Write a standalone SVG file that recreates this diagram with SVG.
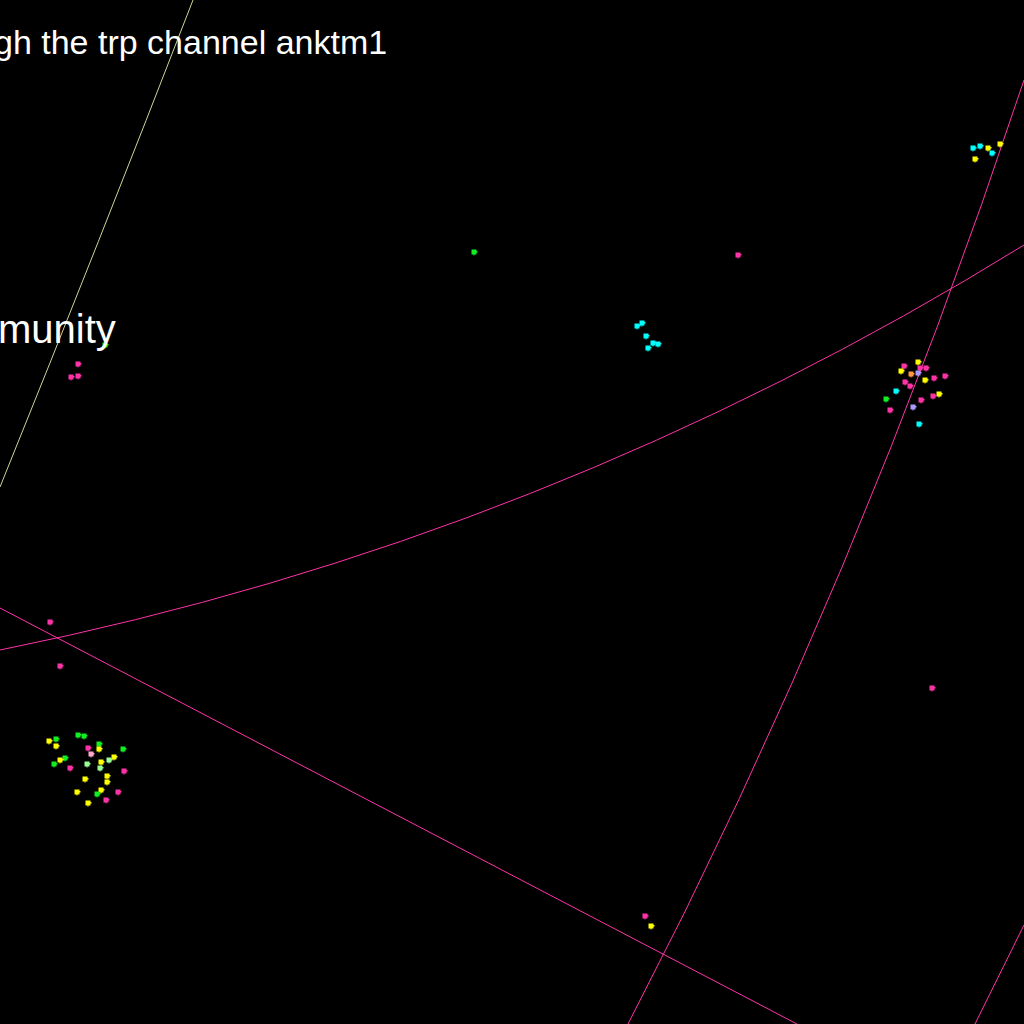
<svg xmlns="http://www.w3.org/2000/svg" width="1024" height="1024" viewBox="0 0 1024 1024">
<style>
.ln{fill:none;stroke:#ff33a8;stroke-width:1}
.pl{fill:none;stroke:#c8d898;stroke-width:1}
.t{fill:#ffffff;font-family:"Liberation Sans",Arial,sans-serif}
.p{fill:#ff33a8}.y{fill:#ffff00}.g{fill:#11ee22}.c{fill:#00ffff}.lg{fill:#99ff99}.lp{fill:#ffaacc}.o{fill:#ff9944}.v{fill:#aa99ff}
</style>
<defs>
<path id="d" d="M-2.5,-2.5h5v1.5h1v1.5h-1v2h-2v1h-1v-1h-2z"/>
</defs>
<rect width="1024" height="1024" fill="#000"/>
<g id="connectors">
<path class="pl" d="M193,0 Q100,240 0,487"/>
<path class="ln" d="M0,650 Q547,540 1024,245"/>
<path class="ln" d="M0,608 L797,1024"/>
<path class="ln" d="M1024,80 Q859,580 628,1024"/>
<path class="ln" d="M1024,925 L975,1024"/>
</g>
<g id="dots">
<use href="#d" class="y" x="49" y="741"/><use href="#d" class="g" x="56" y="739"/><use href="#d" class="y" x="56" y="746"/>
<use href="#d" class="g" x="78" y="735"/><use href="#d" class="g" x="84" y="736"/><use href="#d" class="p" x="88" y="748"/>
<use href="#d" class="lp" x="91" y="754"/><use href="#d" class="g" x="99" y="744"/><use href="#d" class="y" x="99" y="749"/>
<use href="#d" class="g" x="123" y="749"/><use href="#d" class="g" x="65" y="758"/><use href="#d" class="y" x="60" y="760"/>
<use href="#d" class="g" x="54" y="764"/><use href="#d" class="p" x="70" y="768"/><use href="#d" class="lg" x="87" y="764"/>
<use href="#d" class="y" x="101" y="762"/><use href="#d" class="lg" x="109" y="760"/><use href="#d" class="y" x="114" y="757"/>
<use href="#d" class="lg" x="100" y="768"/><use href="#d" class="y" x="85" y="779"/><use href="#d" class="y" x="107" y="776"/>
<use href="#d" class="y" x="107" y="782"/><use href="#d" class="p" x="124" y="771"/><use href="#d" class="y" x="77" y="792"/>
<use href="#d" class="y" x="101" y="790"/><use href="#d" class="g" x="97" y="794"/><use href="#d" class="p" x="118" y="792"/>
<use href="#d" class="p" x="106" y="800"/><use href="#d" class="y" x="88" y="803"/>

<use href="#d" class="y" x="918" y="362"/><use href="#d" class="p" x="904" y="366"/><use href="#d" class="p" x="920" y="368"/>
<use href="#d" class="p" x="926" y="368"/><use href="#d" class="y" x="901" y="371"/><use href="#d" class="o" x="911" y="374"/>
<use href="#d" class="v" x="918" y="373"/><use href="#d" class="y" x="925" y="380"/><use href="#d" class="p" x="934" y="378"/>
<use href="#d" class="p" x="945" y="376"/><use href="#d" class="p" x="905" y="382"/><use href="#d" class="p" x="910" y="386"/>
<use href="#d" class="c" x="896" y="391"/><use href="#d" class="y" x="939" y="394"/><use href="#d" class="p" x="933" y="396"/>
<use href="#d" class="g" x="886" y="399"/><use href="#d" class="p" x="921" y="400"/><use href="#d" class="v" x="913" y="407"/>
<use href="#d" class="p" x="890" y="410"/><use href="#d" class="c" x="919" y="424"/>

<use href="#d" class="c" x="973" y="148"/><use href="#d" class="c" x="980" y="146"/><use href="#d" class="y" x="988" y="148"/>
<use href="#d" class="c" x="992" y="153"/><use href="#d" class="y" x="1000" y="144"/><use href="#d" class="y" x="975" y="159"/>

<use href="#d" class="c" x="637" y="326"/><use href="#d" class="c" x="642" y="323"/><use href="#d" class="c" x="646" y="336"/>
<use href="#d" class="c" x="653" y="343"/><use href="#d" class="c" x="658" y="344"/><use href="#d" class="c" x="648" y="348"/>

<use href="#d" class="g" x="474" y="252"/><use href="#d" class="p" x="738" y="255"/>
<use href="#d" class="g" x="105" y="345"/>
<use href="#d" class="p" x="78" y="364"/><use href="#d" class="p" x="71" y="377"/><use href="#d" class="p" x="78" y="376"/>
<use href="#d" class="p" x="50" y="622"/><use href="#d" class="p" x="60" y="666"/><use href="#d" class="p" x="932" y="688"/>
<use href="#d" class="p" x="645" y="916"/><use href="#d" class="y" x="651" y="926"/>
</g>
<g id="labels">
<text class="t" x="-6" y="54" font-size="34">gh the trp channel anktm1</text>
<text class="t" x="-2" y="343" font-size="40">munity</text>
</g>
</svg>
